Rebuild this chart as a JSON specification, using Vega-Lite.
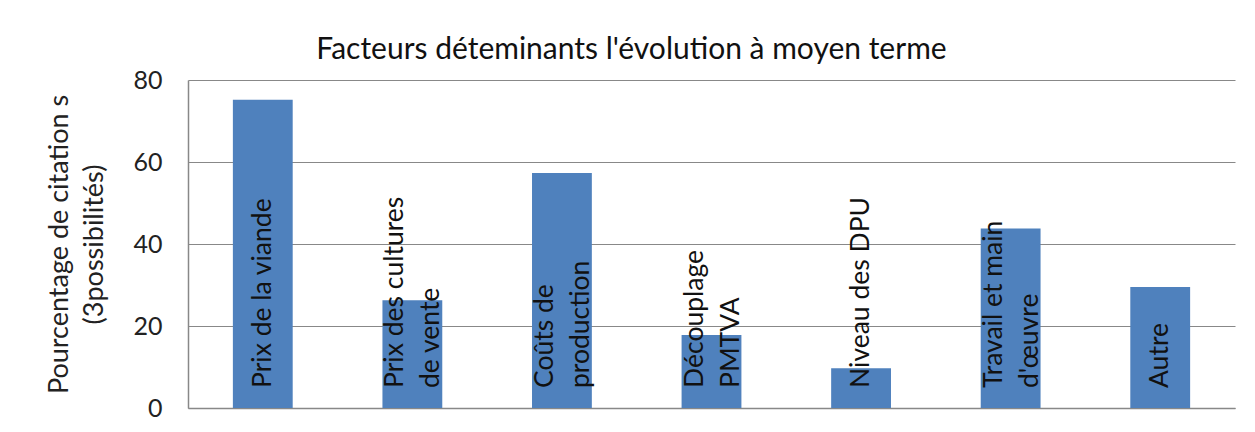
{
  "$schema": "https://vega.github.io/schema/vega-lite/v6.json",
  "autosize": "none",
  "width": 1047,
  "height": 328,
  "padding": {"left": 188, "top": 80, "right": 20, "bottom": 24},
  "background": "white",
  "config": {
    "font": "Lato",
    "view": {"stroke": null}
  },
  "title": {
    "text": "Facteurs déteminants l'évolution à moyen terme",
    "fontSize": 30,
    "fontWeight": "normal",
    "color": "#111111",
    "anchor": "middle",
    "baseline": "alphabetic",
    "offset": -21,
    "dx": -80
  },
  "data": {
    "values": [
      {"facteur": "Prix de la viande", "label": "Prix de la viande", "pct": 75.2},
      {"facteur": "Prix des cultures de vente", "label": "Prix des cultures\nde vente", "pct": 26.3},
      {"facteur": "Coûts de production", "label": "Coûts de\nproduction", "pct": 57.3},
      {"facteur": "Découplage PMTVA", "label": "Découplage\nPMTVA", "pct": 17.8},
      {"facteur": "Niveau des DPU", "label": "Niveau des DPU", "pct": 9.7},
      {"facteur": "Travail et main d'œuvre", "label": "Travail et main\nd'œuvre", "pct": 43.8},
      {"facteur": "Autre", "label": "Autre", "pct": 29.5}
    ]
  },
  "encoding": {
    "x": {
      "field": "facteur",
      "type": "nominal",
      "sort": null,
      "scale": {"paddingInner": 0.6, "paddingOuter": 0.3},
      "axis": {
        "title": null,
        "labels": false,
        "ticks": false,
        "domainColor": "#888888",
        "domainWidth": 1.5
      }
    }
  },
  "layer": [
    {
      "mark": {"type": "bar", "color": "#4F81BD"},
      "encoding": {
        "y": {
          "field": "pct",
          "type": "quantitative",
          "scale": {"domain": [0, 80]},
          "axis": {
            "values": [0, 20, 40, 60, 80],
            "title": ["Pourcentage de citation s", "(3possibilités)"],
            "titleFontSize": 27,
            "titleFontWeight": "normal",
            "titleColor": "#222222",
            "titleLineHeight": 35,
            "titlePadding": 24,
            "labelFontSize": 25,
            "labelColor": "#222222",
            "labelPadding": 26,
            "ticks": false,
            "domainColor": "#888888",
            "domainWidth": 1.5,
            "gridColor": "#888888",
            "gridWidth": 1.2
          }
        }
      }
    },
    {
      "transform": [{"filter": "!test(/\\n/, datum.label)"}],
      "mark": {
        "type": "text",
        "angle": 270,
        "align": "left",
        "baseline": "middle",
        "dx": 20,
        "fontSize": 26.5,
        "color": "#111111"
      },
      "encoding": {
        "y": {"datum": 0, "type": "quantitative"},
        "text": {"field": "label"}
      }
    },
    {
      "transform": [{"filter": "test(/\\n/, datum.label)"}],
      "mark": {
        "type": "text",
        "angle": 270,
        "align": "left",
        "baseline": "middle",
        "dx": 20,
        "dy": -17,
        "fontSize": 26.5,
        "lineHeight": 36,
        "color": "#111111",
        "lineBreak": "\n"
      },
      "encoding": {
        "y": {"datum": 0, "type": "quantitative"},
        "text": {"field": "label"}
      }
    }
  ]
}
